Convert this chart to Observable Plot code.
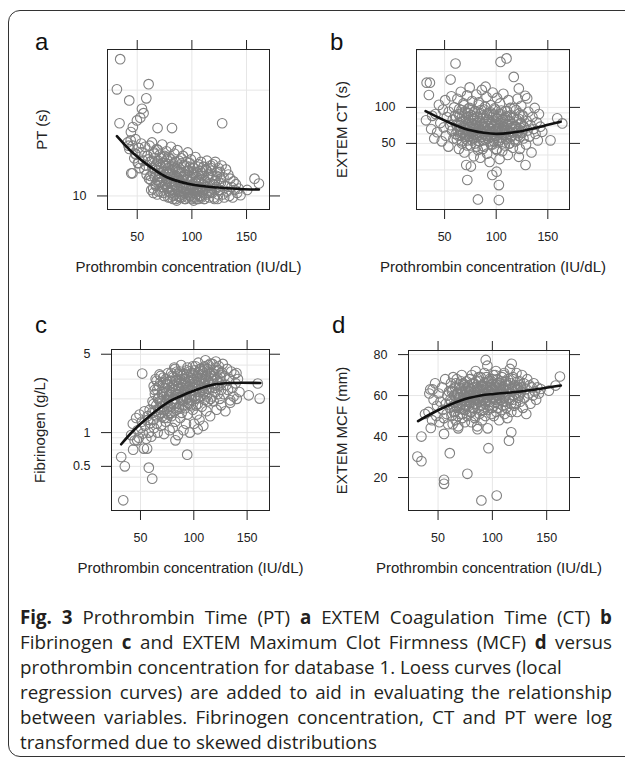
<!DOCTYPE html>
<html><head><meta charset="utf-8">
<script src="https://cdn.jsdelivr.net/npm/d3@7"></script>
<script src="https://cdn.jsdelivr.net/npm/@observablehq/plot@0.6"></script>
<style>
html,body{margin:0;padding:0;background:#fff;}
body{width:625px;height:757px;overflow:hidden;position:relative;font-family:"Liberation Sans",Arial,sans-serif;}
#border{position:absolute;left:8px;top:10px;width:680px;height:747px;border:1.5px solid #333;border-radius:12px;box-sizing:border-box;}
.letter{position:absolute;font-size:24px;line-height:24px;color:#111;font-family:"Liberation Sans",Arial,sans-serif;}
#caption{position:absolute;left:20px;top:604px;width:592px;font-family:"Open Sans",sans-serif;font-size:16px;line-height:25px;color:#231f20;}
#caption div{white-space:nowrap;}
#caption .j{text-align:justify;text-align-last:justify;}
#caption b{font-weight:700;}
</style></head><body>
<div id="border"></div>
<script>
// ---------- data ----------
const xTicks = [50, 100, 150];
const xTitle = "Prothrombin concentration (IU/dL)";

// prothrombin concentration (IU/dL) of the main cloud of patients
const protX = [
  41.2,42.8,44.5,45.9,47.3,48.4,49.1,50.6,51.3,52.2,53.7,54.1,55.4,56.6,57.2,57.9,58.6,59.3,60.1,60.8,
  61.3,61.9,62.4,62.8,63.5,63.9,64.2,64.8,65.3,65.7,66.1,66.9,67.2,67.8,68.3,68.6,69.2,69.8,70.3,70.7,
  71.4,71.8,72.1,72.9,73.2,73.6,74.3,74.7,75.1,75.8,76.2,76.7,77.3,77.6,78.2,
  78.7,79.1,79.6,80.2,80.8,81.1,81.7,82.3,82.6,83.2,83.9,84.3,84.6,85.2,85.7,86.1,86.8,87.3,87.6,88.1,
  88.7,89.2,89.8,90.3,90.6,91.2,91.8,92.1,92.7,93.3,93.6,94.2,94.8,95.1,95.7,96.3,96.6,97.2,97.8,98.2,
  98.7,99.1,99.6,100.2,100.8,101.3,101.6,102.2,102.9,103.3,103.7,104.2,104.6,105.3,105.8,106.2,106.9,107.4,
  107.8,108.3,108.9,109.4,109.7,110.3,110.8,111.2,111.9,112.4,112.7,113.3,113.8,114.5,115.3,116.2,117.1,
  117.9,118.6,119.2,120.1,120.7,121.4,122.2,122.8,123.5,124.3,125.1,125.6,126.4,127.2,128.1,128.9,129.6,
  130.4,131.2,132.1,133.3,134.2,135.1,136.2,137.3,138.1,139.2,140.3,141.4,142.8
];
// second group of patients in the dense centre of the clouds
const protX2 = [
  62.1,63.3,64.6,65.1,66.4,66.8,67.5,68.2,68.9,69.4,70.1,70.6,71.2,71.9,72.4,72.8,73.5,73.9,74.4,74.9,75.3,75.6,76.1,76.5,77.0,
  77.4,77.8,78.5,78.9,79.3,80.0,80.4,80.9,81.5,81.8,82.4,83.0,83.5,83.8,84.4,85.0,85.4,86.0,86.4,87.0,87.4,88.0,88.4,89.0,89.6,90.0,90.5,91.0,91.6,92.0,
  92.4,92.9,93.4,94.0,94.5,95.0,95.4,96.0,96.4,97.0,97.5,98.0,98.4,99.0,99.5,100.0,100.5,101.0,101.4,102.0,102.6,103.0,103.5,104.0,104.4,105.0,105.6,106.0,106.6,107.4,
  108.0,108.6,109.2,110.0,110.6,111.4,112.0,112.8,113.6,114.2,115.0,115.8,116.6,117.4,118.2,119.0,119.8,120.6,121.6,122.4,123.2,124.0,124.8,125.6,126.4
];

// a: PT (s)
const ptCloud = [
  14.2,13.6,11.6,13.9,12.8,14.5,13.1,12.4,13.7,12.0,14.1,13.3,12.6,11.9,13.8,12.2,11.5,13.0,12.7,11.2,
  13.9,12.5,11.1,10.4,14.2,12.0,11.6,10.2,13.3,12.8,11.3,10.7,12.2,13.6,10.1,11.8,12.6,10.9,11.4,13.1,
  10.3,12.1,11.0,14.0,11.7,10.6,12.9,10.0,11.5,12.4,10.8,13.4,11.2,10.5,12.0,
  12.9,10.3,11.6,9.9,13.8,11.0,10.6,12.3,9.8,11.4,13.2,10.1,12.0,10.8,11.9,9.7,13.5,10.4,11.2,12.6,
  10.0,11.7,10.9,12.8,9.9,11.1,13.0,10.5,12.2,10.2,11.5,9.8,12.5,10.7,11.3,13.3,10.1,11.8,10.4,12.1,
  10.4,12.7,9.9,11.2,10.7,12.0,9.7,11.6,10.2,12.9,10.9,11.3,9.8,10.5,12.3,11.0,10.0,11.8,
  10.6,12.5,9.9,11.4,10.3,10.8,12.1,9.8,11.1,10.5,11.9,10.1,12.6,10.7,11.5,10.2,12.2,
  11.8,10.2,12.3,9.9,11.0,12.5,10.6,11.4,9.8,12.0,10.4,11.7,10.9,12.2,10.1,11.3,9.9,
  10.7,11.9,10.3,11.5,10.0,11.2,10.6,9.9,11.0,10.4,10.8,10.2,10.5
];
const ptCloud2 = [
  11.4,12.6,10.5,13.2,11.9,10.8,12.3,11.1,13.5,10.3,12.0,11.6,10.9,12.8,11.3,10.6,12.4,11.7,10.2,13.0,11.5,10.7,12.2,11.0,12.7,
  10.6,11.5,9.9,12.3,10.9,11.8,10.2,12.7,11.2,10.4,11.9,10.0,12.1,11.0,10.7,12.5,9.8,11.4,10.5,11.7,10.3,12.0,11.1,9.9,10.8,11.6,10.1,12.4,10.6,11.3,
  10.3,11.4,9.8,10.9,12.2,10.5,11.1,9.9,11.8,10.2,10.7,12.4,10.0,11.3,10.6,9.8,11.6,10.4,12.0,10.8,9.9,11.0,10.3,11.7,10.1,10.6,12.1,9.8,11.2,10.5,
  10.9,10.0,11.6,10.4,12.1,9.8,11.0,10.6,11.8,10.2,11.3,9.9,10.7,12.0,10.3,11.4,10.8,9.8,11.1,10.5,11.7,10.1,10.9,10.4,11.2
];
const ptOutX = [34.4,31.4,42.7,60.4,58.3,54.3,55.8,52.8,49.7,46.0,44.2,33.8,68.6,81.8,127.7,45.7,51.2,157.3,161.3,150.6,144.5,42.0,44.0,48.0];
const ptOutY = [24.5,20.1,18.7,20.8,18.95,17.7,17.2,16.7,16.4,15.7,15.2,16.1,15.6,15.6,16.1,11.6,12.4,11.2,10.85,10.4,10.05,13.9,14.4,13.2];
const ptLoessX = [31.4,46.6,61.9,77.2,98.6,123.1,144.5,161.3];
const ptLoessY = [14.8,13.2,12.1,11.3,10.8,10.57,10.47,10.43];

// b: EXTEM CT (s)
const ctCloud = [
  88,62,105,74,52,96,68,115,58,83,47,92,71,124,64,79,55,100,85,60,
  72,54,118,63,88,45,97,66,58,135,76,50,84,61,108,70,42,92,57,79,65,126,53,74,98,60,147,68,48,86,62,113,56,81,39,
  64,92,50,71,128,57,83,44,66,110,59,76,38,95,61,140,53,69,86,47,73,101,58,64,122,41,79,55,90,67,35,62,104,49,75,60,133,70,52,87,
  58,96,66,45,120,62,80,51,70,37,108,56,88,64,43,75,130,59,68,48,93,61,54,84,72,40,115,63,50,77,99,57,67,46,82,
  70,52,95,63,118,58,80,45,74,103,61,86,55,68,125,49,77,64,92,57,71,42,83,66,99,60,75,53,88,69
];
const ctCloud2 = [
  70,58,85,64,95,52,76,61,104,67,55,81,72,48,90,63,78,57,99,69,60,86,74,53,66,
  62,80,55,71,93,59,66,47,84,74,61,105,68,52,77,64,89,57,72,45,82,60,96,69,54,75,63,87,58,70,
  60,78,52,67,91,57,73,63,49,85,69,55,98,62,76,58,44,81,66,71,53,88,61,74,56,94,65,50,79,68,
  64,82,55,71,93,60,76,50,67,86,58,73,62,98,54,69,79,61,66,89,57,74,63,84,70
];
const ctOutX = [60.6,104.2,110.0,32.6,35.8,34.8,55.8,117.0,121.9,89.7,130.0,159.1,164.0,152.6,144.6,128.4,72.0,96.2,100.4,102.6,82.3,102.6,71.0,75.5,121.9,32.0,38.0,37.0,40.0];
const ctOutY = [233,240,257,161,161,127,171,180,144,149,119,81,73.5,53,62.5,33,24.7,27.2,29,22.4,17,16.8,33,32,38.6,78,85,66,55];
const ctLoessX = [31.6,49.3,68.7,88.0,100.9,120.4,139.8,162.4];
const ctLoessY = [93,78.3,66.7,61.4,60.1,62.5,68,75.8];

// c: Fibrinogen (g/L)
const fibCloud = [
  0.95,1.2,0.85,1.35,1.05,0.9,1.45,1.1,1.25,0.98,1.55,1.15,0.88,1.4,1.3,1.0,1.6,1.22,0.92,1.5,
  1.9,1.3,2.6,1.1,2.2,1.55,3.0,1.75,1.2,2.4,1.0,2.05,1.45,3.3,1.65,2.8,1.15,1.85,2.3,1.4,3.1,1.6,0.97,2.5,1.8,1.25,2.7,2.0,1.35,3.4,1.7,2.15,1.05,2.9,1.5,
  2.3,1.4,3.2,1.1,2.6,1.8,3.8,2.0,1.25,2.9,1.6,3.5,2.2,0.95,2.5,1.7,3.0,1.35,2.1,4.0,1.5,2.7,1.9,1.05,3.3,2.4,1.65,2.8,1.2,3.6,2.05,1.45,2.55,1.85,3.1,1.0,2.35,1.75,3.4,2.15,
  2.5,1.6,3.4,1.2,2.8,2.0,3.9,2.3,1.45,3.1,1.8,4.2,2.6,1.3,3.6,2.1,2.9,1.7,3.3,2.4,1.15,2.7,3.8,1.95,2.2,3.0,1.55,3.5,2.45,1.9,4.0,2.75,1.4,3.2,2.1,
  2.9,1.9,3.6,2.3,4.3,1.6,3.1,2.6,3.9,2.0,3.4,1.75,2.8,4.1,2.2,3.2,1.55,2.65,3.7,2.4,3.0,1.85,3.5,2.5,2.1,3.3,2.75,2.0,3.0,2.3
];
const fibCloud2 = [
  1.8,2.4,1.4,2.9,2.0,1.6,2.6,1.9,3.2,1.5,2.2,1.7,2.8,2.1,1.35,2.5,1.85,3.0,2.3,1.55,2.7,1.95,1.45,2.35,2.05,
  2.2,2.9,1.7,3.4,2.5,1.9,3.1,2.0,2.7,1.55,3.7,2.35,1.8,2.95,2.15,3.3,2.6,1.65,2.45,3.5,2.05,2.8,1.95,3.2,2.3,1.75,2.65,3.0,2.1,2.5,
  2.6,3.3,2.0,3.8,2.4,2.9,1.8,3.5,2.7,2.2,3.1,1.95,2.55,3.9,2.35,3.0,2.1,3.6,2.8,1.75,2.45,3.2,2.65,2.05,3.4,2.9,2.3,3.7,2.5,3.05,
  2.8,3.5,2.3,3.9,2.6,3.2,2.1,3.7,2.9,2.45,3.4,2.0,3.05,4.1,2.7,3.3,2.5,3.8,2.95,2.2,3.6,2.75,3.15,2.4,3.45
];
const fibOutX = [33.8,31.9,35.3,57.8,61.0,93.8,51.6,43.1,53.1,56.2,46.9,103.7,82.8,151.5,161.8,110.9,115.6,134.3,160.0,140.0];
const fibOutY = [0.249,0.606,0.5,0.487,0.388,0.636,3.36,0.705,0.72,0.72,0.853,1.07,0.853,2.15,2.01,4.42,4.13,1.94,2.74,3.4];
const fibLoessX = [31.9,43.7,59.4,76.5,85.9,103.1,118.7,134.3,162.4];
const fibLoessY = [0.787,1.05,1.43,1.88,2.08,2.42,2.68,2.77,2.77];

// d: EXTEM MCF (mm)
const mcfCloud = [
  52,63,48,58,66,50,55,61,47,57,64,53,49,68,56,51,60,46,62,54,
  58,66,50,62,46,69,55,60,52,64,48,57,68,54,61,45,59,65,51,63,56,70,49,58,66,53,60,47,62,55,67,50,59,64,57,
  60,68,52,63,47,70,57,61,54,66,49,59,72,56,64,45,62,58,67,51,60,69,55,63,48,65,58,53,71,61,50,57,66,59,44,62,55,68,60,64,
  61,67,54,63,70,50,59,65,57,72,52,62,68,56,60,48,66,58,64,53,69,61,55,63,71,51,60,67,57,62,49,65,59,73,56,
  63,58,68,55,65,61,71,52,64,60,67,57,62,70,54,66,59,63,51,68,61,65,56,64,60,66,62,58,64,61
];
const mcfCloud2 = [
  57,63,52,60,66,55,61,50,58,64,54,59,67,56,62,51,60,65,57,53,63,59,55,61,58,
  60,65,55,62,68,57,63,52,59,66,61,56,64,50,60,67,58,63,54,61,69,57,62,59,65,53,60,64,58,62,
  61,66,56,63,69,58,64,53,60,67,62,57,65,51,61,68,59,63,55,62,70,58,64,60,66,54,61,65,59,63,
  62,67,57,64,70,59,65,54,61,68,63,58,66,52,62,69,60,64,56,63,67,59,65,61,64
];
const mcfOutX = [31.0,34.7,34.7,43.3,55.5,60.8,55.5,55.5,77.0,89.9,104.0,96.4,115.3,117.4,68.5,86.3,93.9,95.4,117.8,162.2,152.0,158.2,144.5,38.0,45.0,42.0];
const mcfOutY = [30.2,28,40,44.2,41.3,31.9,18.9,16.9,21.8,8.8,11.2,34.3,38,42.1,44,43.6,77.4,74.6,75.5,69.3,62.4,64.9,63.2,51,63,61];
const mcfLoessX = [31.6,49.4,70.9,89.3,101.6,126.1,163.0];
const mcfLoessY = [47.5,52.7,57.6,60.0,60.8,62.0,64.9];

// ---------- drawing ----------
const xDomain = [22.8, 171];
function makePanel(cfg) {
  const ml = 100, mr = 24, mt = 20, mb = 80;
  const [l, r, t, b] = cfg.box;
  const w = r - l, h = b - t;
  const pts = protX.map((x, i) => ({x, y: cfg.cloud[i]}))
    .concat(protX2.map((x, i) => ({x, y: cfg.cloud2[i]})))
    .concat(cfg.outX.map((x, i) => ({x, y: cfg.outY[i]})));
  const lo = cfg.loX.map((x, i) => ({x, y: cfg.loY[i]}));
  const grid = {stroke: "#e6e6e6", strokeOpacity: 1, strokeWidth: 1};
  const svg = Plot.plot({
    width: ml + w + mr, height: mt + h + mb,
    marginLeft: ml, marginRight: mr, marginTop: mt, marginBottom: mb,
    style: {fontFamily: "'Liberation Sans', Arial, sans-serif", fontSize: "12.5px", color: "#222", background: "transparent", overflow: "visible"},
    x: {domain: xDomain},
    y: {type: cfg.yType, domain: cfg.yDomain},
    marks: [
      Plot.gridX(xTicks, grid),
      Plot.gridY(cfg.yGrid, grid),
      Plot.dot(pts, {x: "x", y: "y", r: 4.8, fill: "none", stroke: "#808080", strokeWidth: 1.1}),
      Plot.line(lo, {x: "x", y: "y", stroke: "#111", strokeWidth: 2.6, curve: "catmull-rom"}),
      Plot.frame({stroke: "#222", strokeWidth: 1}),
      Plot.axisX({anchor: "bottom", ticks: xTicks, tickSize: 10, tickPadding: 13, tickFormat: d => String(d), label: null, stroke: "#222"}),
      Plot.axisX({anchor: "top", ticks: xTicks, tickSize: 10, tickFormat: () => "", label: null, stroke: "#222"}),
      Plot.axisY({anchor: "left", ticks: cfg.yTicks, tickSize: 10, tickPadding: 11, tickFormat: d => String(d), label: null, stroke: "#222"}),
      Plot.axisY({anchor: "right", ticks: cfg.yTicks, tickSize: 10, tickFormat: () => "", label: null, stroke: "#222"}),
      Plot.text([cfg.yTitle], {frameAnchor: "left", dx: -cfg.yTitleDx, rotate: -90, textAnchor: "middle", fontSize: 15, text: d => d, fill: "#222"}),
      Plot.text([xTitle], {frameAnchor: "bottom", dy: 62, textAnchor: "middle", fontSize: 15, text: d => d, fill: "#222"})
    ]
  });
  svg.style.position = "absolute";
  svg.style.left = (l - ml) + "px";
  svg.style.top = (t - mt) + "px";
  document.body.appendChild(svg);
  const lab = document.createElement("div");
  lab.className = "letter";
  lab.textContent = cfg.letter;
  lab.style.left = cfg.letterPos[0] + "px";
  lab.style.top = cfg.letterPos[1] + "px";
  document.body.appendChild(lab);
}

makePanel({letter: "a", letterPos: [35, 30], box: [107, 269, 49, 209], cloud: ptCloud, cloud2: ptCloud2, outX: ptOutX, outY: ptOutY,
  loX: ptLoessX, loY: ptLoessY, yType: "log", yDomain: [9.15, 26.1], yTicks: [10], yGrid: [10, 20],
  yTitle: "PT (s)", yTitleDx: 65});
makePanel({letter: "b", letterPos: [330, 30], box: [416, 569, 49, 209], cloud: ctCloud, cloud2: ctCloud2, outX: ctOutX, outY: ctOutY,
  loX: ctLoessX, loY: ctLoessY, yType: "log", yDomain: [14.0, 305], yTicks: [50, 100],
  yGrid: [20, 30, 40, 50, 60, 70, 80, 90, 100, 200, 300], yTitle: "EXTEM CT (s)", yTitleDx: 74});
makePanel({letter: "c", letterPos: [35, 313], box: [111, 269, 349, 510], cloud: fibCloud, cloud2: fibCloud2, outX: fibOutX, outY: fibOutY,
  loX: fibLoessX, loY: fibLoessY, yType: "log", yDomain: [0.202, 5.51], yTicks: [0.5, 1, 5],
  yGrid: [0.3, 0.4, 0.5, 0.6, 0.7, 0.8, 0.9, 1, 2, 3, 4, 5], yTitle: "Fibrinogen (g/L)", yTitleDx: 71});
makePanel({letter: "d", letterPos: [332, 313], box: [408, 569, 350, 510], cloud: mcfCloud, cloud2: mcfCloud2, outX: mcfOutX, outY: mcfOutY,
  loX: mcfLoessX, loY: mcfLoessY, yType: "linear", yDomain: [3.9, 82], yTicks: [20, 40, 60, 80],
  yGrid: [20, 40, 60, 80], yTitle: "EXTEM MCF (mm)", yTitleDx: 66});
</script>
<div id="caption">
  <div class="j"><b>Fig. 3</b> Prothrombin Time (PT) <b>a</b> EXTEM Coagulation Time (CT) <b>b</b></div>
  <div class="j">Fibrinogen <b>c</b> and EXTEM Maximum Clot Firmness (MCF) <b>d</b> versus</div>
  <div>prothrombin concentration for database 1. Loess curves (local</div>
  <div class="j">regression curves) are added to aid in evaluating the relationship</div>
  <div class="j">between variables. Fibrinogen concentration, CT and PT were log</div>
  <div>transformed due to skewed distributions</div>
</div>
<script>
// size the caption font so the widest justified line nearly fills the text width
// (measured with justification switched off, then switched back on)
(function(){
  const cap = document.getElementById("caption");
  const lines = Array.from(cap.children);
  const just = lines.map(div => div.classList.contains("j"));
  let maxW = 0;
  lines.forEach((div, i) => {
    div.classList.remove("j");
    const span = document.createElement("span");
    while (div.firstChild) span.appendChild(div.firstChild);
    div.appendChild(span);
    const w = span.getBoundingClientRect().width;
    if (just[i]) maxW = Math.max(maxW, w);
  });
  cap.style.fontSize = (16 * 566 / maxW).toFixed(2) + "px";
  lines.forEach((div, i) => { if (just[i]) div.classList.add("j"); });
})();
</script>
</body></html>
